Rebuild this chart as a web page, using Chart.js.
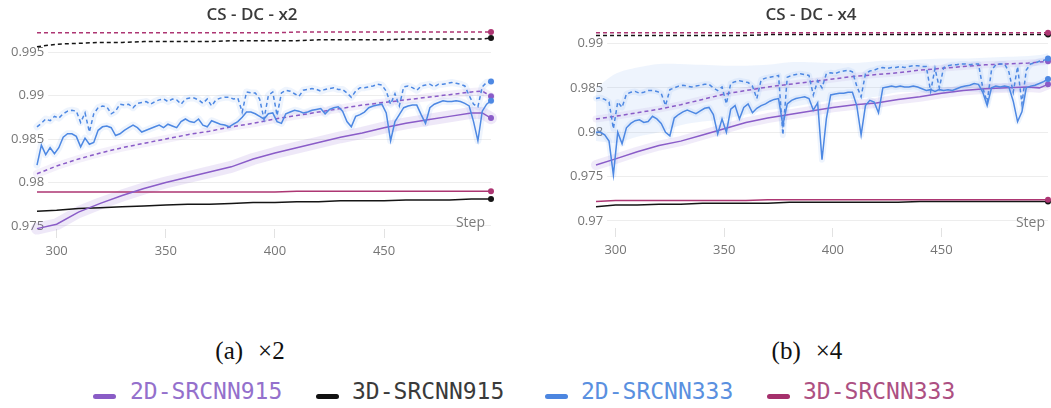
<!DOCTYPE html>
<html><head><meta charset="utf-8">
<script src="https://cdn.jsdelivr.net/npm/chart.js@4.4.0/dist/chart.umd.min.js"></script>
<style>
html,body{margin:0;padding:0;background:#fff;}
#wrap{position:relative;width:1051px;height:408px;overflow:hidden;background:#fff;}
canvas{position:absolute;top:0;}
.t{position:absolute;top:5px;font-family:'Open Sans';font-weight:600;font-size:17px;line-height:17px;color:#3a3a3a;white-space:nowrap;text-align:center;width:200px;}
.step{position:absolute;top:215px;font-family:'Open Sans';font-size:14px;line-height:14px;color:#7b7b7b;}
.cap{position:absolute;top:338px;font-family:'Liberation Serif';font-size:25px;line-height:25px;color:#111;white-space:nowrap;text-align:center;width:200px;}
.lm{position:absolute;top:394px;width:23px;height:5px;border-radius:3px;}
.lt{position:absolute;top:380px;font-family:'DejaVu Sans Mono';font-size:23px;line-height:23px;white-space:nowrap;}
</style></head>
<body>
<div id="wrap">
<canvas id="c2" width="520" height="270" style="left:0px"></canvas>
<canvas id="c4" width="511" height="270" style="left:540px"></canvas>
<div class="t" style="left:152px">CS - DC - x2</div>
<div class="t" style="left:711px">CS - DC - x4</div>
<div class="step" style="right:566px">Step</div>
<div class="step" style="right:6px">Step</div>
<div class="cap" style="left:150px"><span>(a)</span><span style="margin-left:15px">×2</span></div>
<div class="cap" style="left:707px"><span>(b)</span><span style="margin-left:15px">×4</span></div>
<div class="lm" style="left:93px;background:#8a5cc6"></div><div class="lt" style="left:130px;color:#9470cc">2D-SRCNN915</div>
<div class="lm" style="left:316px;background:#111"></div><div class="lt" style="left:352px;color:#3a3a3a">3D-SRCNN915</div>
<div class="lm" style="left:545px;background:#4c86e0"></div><div class="lt" style="left:581px;color:#5a90e0">2D-SRCNN333</div>
<div class="lm" style="left:767px;background:#a5306c"></div><div class="lt" style="left:803px;color:#ad5082">3D-SRCNN333</div>
</div>
<script>
// ---------- shared x values ----------
const STEPS_FINE = [
291,293,295,297,299,301,303,305,307,309,
311,313,315,317,319,321,323,325,327,329,
331,333,335,337,339,341,343,345,347,349,
351,353,355,357,359,361,363,365,367,369,
371,373,375,377,379,381,383,385,387,389,
391,393,395,397,399,401,403,405,407,409,
411,413,415,417,419,421,423,425,427,429,
431,433,435,437,439,441,443,445,447,449,
451,453,455,457,459,461,463,465,467,469,
471,473,475,477,479,481,483,485,487,489,
491,493,495,497,499];
const STEPS_COARSE = [291,300,310,320,330,340,350,360,370,380,390,400,410,420,430,440,450,460,470,480,490,495,499];
const X_TICKS = [300,350,400,450];
const Y_TICKS_X2 = [0.975,0.98,0.985,0.99,0.995];
const Y_TICKS_X4 = [0.97,0.975,0.98,0.985,0.99];
const SERIES = ['2D-SRCNN915','3D-SRCNN915','2D-SRCNN333','3D-SRCNN333'];

// ---------- x2 panel ----------
const x2_2D333_dashed = [
0.9864,0.9868,0.9873,0.9871,0.9876,0.9874,0.9879,0.9882,0.9883,0.9882,
0.9869,0.9880,0.9858,0.9879,0.9886,0.9888,0.9887,0.9879,0.9882,0.9890,
0.9889,0.9890,0.9886,0.9891,0.9892,0.9893,0.9890,0.9893,0.9895,0.9896,
0.9893,0.9896,0.9895,0.9890,0.9896,0.9897,0.9897,0.9895,0.9891,0.9896,
0.9888,0.9895,0.9897,0.9898,0.9898,0.9896,0.9897,0.9881,0.9904,0.9903,
0.9903,0.9896,0.9873,0.9900,0.9904,0.9877,0.9903,0.9906,0.9905,0.9902,
0.9899,0.9906,0.9907,0.9908,0.9907,0.9905,0.9907,0.9908,0.9909,0.9907,
0.9907,0.9903,0.9898,0.9905,0.9909,0.9909,0.9910,0.9911,0.9913,0.9912,
0.9905,0.9890,0.9902,0.9888,0.9910,0.9911,0.9909,0.9906,0.9911,0.9912,
0.9913,0.9910,0.9913,0.9913,0.9914,0.9915,0.9914,0.9913,0.9911,0.9900,
0.9890,0.9887,0.9910,0.9915,0.9916];
const x2_2D333_solid = [
0.9820,0.9843,0.9832,0.9840,0.9833,0.9840,0.9852,0.9856,0.9856,0.9853,
0.9841,0.9851,0.9844,0.9846,0.9860,0.9864,0.9865,0.9863,0.9854,0.9856,
0.9860,0.9863,0.9866,0.9863,0.9858,0.9860,0.9862,0.9864,0.9866,0.9863,
0.9867,0.9865,0.9863,0.9870,0.9873,0.9870,0.9869,0.9873,0.9866,0.9864,
0.9871,0.9869,0.9867,0.9866,0.9864,0.9867,0.9870,0.9875,0.9881,0.9881,
0.9879,0.9876,0.9873,0.9879,0.9880,0.9870,0.9868,0.9879,0.9881,0.9883,
0.9882,0.9880,0.9881,0.9883,0.9884,0.9885,0.9879,0.9884,0.9886,0.9887,
0.9882,0.9870,0.9864,0.9876,0.9878,0.9881,0.9886,0.9888,0.9889,0.9890,
0.9880,0.9848,0.9870,0.9878,0.9886,0.9888,0.9889,0.9889,0.9878,0.9868,
0.9886,0.9890,0.9892,0.9894,0.9893,0.9893,0.9894,0.9893,0.9891,0.9888,
0.9870,0.9848,0.9882,0.9890,0.9894];
const x2_2D915_solid  = [0.9747,0.9752,0.9766,0.9776,0.9785,0.9793,0.9800,0.9806,0.9812,0.9818,0.9827,0.9834,0.9840,0.9846,0.9852,0.9857,0.9863,0.9868,0.9872,0.9876,0.9880,0.9880,0.9874];
const x2_2D915_dashed = [0.9810,0.9819,0.9827,0.9834,0.9840,0.9845,0.9850,0.9855,0.9859,0.9864,0.9868,0.9873,0.9877,0.9881,0.9885,0.9889,0.9892,0.9895,0.9898,0.9901,0.9904,0.9905,0.9899];
const x2_3D915_solid  = [0.9767,0.9768,0.9770,0.9771,0.9772,0.9773,0.9774,0.9775,0.9775,0.9776,0.9777,0.9777,0.9778,0.9778,0.9779,0.9779,0.9779,0.9780,0.9780,0.9780,0.9781,0.9781,0.9781];
const x2_3D915_dashed = [0.9956,0.9959,0.9960,0.9961,0.9961,0.9962,0.9962,0.9962,0.9962,0.9963,0.9963,0.9963,0.9963,0.9964,0.9964,0.9964,0.9964,0.9965,0.9965,0.9965,0.9965,0.9965,0.9966];
const x2_3D333_solid  = [0.9789,0.9789,0.9789,0.9789,0.9789,0.9789,0.9789,0.9789,0.9789,0.9789,0.9789,0.9789,0.9790,0.9790,0.9790,0.9790,0.9790,0.9790,0.9790,0.9790,0.9790,0.9790,0.9790];
const x2_3D333_dashed = [0.9972,0.9972,0.9972,0.9972,0.9972,0.9972,0.9972,0.9972,0.9972,0.9972,0.9972,0.9972,0.9973,0.9973,0.9973,0.9973,0.9973,0.9973,0.9973,0.9973,0.9973,0.9973,0.9973];

// ---------- x4 panel ----------
const x4_2D333_dashed = [
0.9838,0.9839,0.9837,0.9834,0.9804,0.9834,0.9828,0.9843,0.9845,0.9846,
0.9844,0.9845,0.9847,0.9847,0.9846,0.9844,0.9830,0.9848,0.9850,0.9852,
0.9853,0.9852,0.9851,0.9852,0.9853,0.9854,0.9854,0.9850,0.9847,0.9851,
0.9832,0.9855,0.9857,0.9858,0.9857,0.9856,0.9852,0.9838,0.9859,0.9861,
0.9862,0.9863,0.9864,0.9797,0.9862,0.9864,0.9865,0.9866,0.9865,0.9864,
0.9842,0.9858,0.9850,0.9866,0.9867,0.9866,0.9868,0.9869,0.9870,0.9868,
0.9852,0.9840,0.9866,0.9869,0.9870,0.9872,0.9873,0.9872,0.9873,0.9873,
0.9874,0.9873,0.9874,0.9875,0.9875,0.9874,0.9874,0.9846,0.9872,0.9850,
0.9873,0.9875,0.9876,0.9876,0.9877,0.9877,0.9876,0.9877,0.9877,0.9850,
0.9834,0.9870,0.9876,0.9877,0.9877,0.9868,0.9845,0.9874,0.9832,0.9870,
0.9877,0.9878,0.9880,0.9881,0.9883];
const x4_2D333_solid = [
0.9800,0.9800,0.9797,0.9790,0.9752,0.9800,0.9787,0.9805,0.9810,0.9813,
0.9814,0.9811,0.9812,0.9818,0.9815,0.9810,0.9800,0.9796,0.9816,0.9820,
0.9823,0.9825,0.9823,0.9821,0.9824,0.9827,0.9828,0.9820,0.9798,0.9815,
0.9800,0.9826,0.9830,0.9815,0.9828,0.9832,0.9822,0.9827,0.9830,0.9832,
0.9835,0.9837,0.9838,0.9808,0.9832,0.9836,0.9838,0.9839,0.9840,0.9838,
0.9825,0.9833,0.9769,0.9815,0.9842,0.9843,0.9844,0.9844,0.9845,0.9845,
0.9830,0.9797,0.9830,0.9836,0.9834,0.9822,0.9850,0.9851,0.9852,0.9851,
0.9852,0.9851,0.9851,0.9852,0.9851,0.9849,0.9847,0.9848,0.9846,0.9848,
0.9847,0.9848,0.9847,0.9849,0.9851,0.9852,0.9853,0.9855,0.9854,0.9845,
0.9830,0.9850,0.9852,0.9851,0.9852,0.9851,0.9835,0.9812,0.9823,0.9850,
0.9852,0.9853,0.9855,0.9857,0.9860];
const x4_2D333_bandTop = [0.9850,0.9866,0.9873,0.9877,0.9877,0.9876,0.9875,0.9875,0.9876,0.9879,0.9879,0.9878,0.9878,0.9880,0.9881,0.9882,0.9883,0.9883,0.9884,0.9885,0.9886,0.9887,0.9889];
const x4_2D333_bandBot = [0.9790,0.9788,0.9795,0.9800,0.9808,0.9812,0.9815,0.9820,0.9825,0.9828,0.9832,0.9836,0.9838,0.9840,0.9845,0.9845,0.9843,0.9846,0.9845,0.9846,0.9848,0.9850,0.9855];
const x4_2D915_solid  = [0.9763,0.9770,0.9778,0.9785,0.9790,0.9797,0.9804,0.9811,0.9816,0.9820,0.9824,0.9828,0.9831,0.9833,0.9837,0.9840,0.9844,0.9847,0.9849,0.9850,0.9851,0.9850,0.9854];
const x4_2D915_dashed = [0.9815,0.9818,0.9822,0.9826,0.9831,0.9837,0.9843,0.9847,0.9851,0.9854,0.9857,0.9860,0.9863,0.9865,0.9867,0.9870,0.9872,0.9874,0.9876,0.9877,0.9878,0.9879,0.9880];
const x4_3D915_solid  = [0.9716,0.9718,0.9718,0.9719,0.9719,0.9720,0.9720,0.9720,0.9720,0.9721,0.9721,0.9721,0.9721,0.9721,0.9721,0.9722,0.9722,0.9722,0.9722,0.9722,0.9722,0.9722,0.9722];
const x4_3D915_dashed = [0.9909,0.9909,0.9909,0.9909,0.9909,0.9909,0.9909,0.9909,0.9910,0.9910,0.9910,0.9910,0.9910,0.9910,0.9910,0.9910,0.9910,0.9910,0.9910,0.9910,0.9910,0.9910,0.9910];
const x4_3D333_solid  = [0.9722,0.9723,0.9723,0.9723,0.9723,0.9723,0.9723,0.9723,0.9724,0.9724,0.9724,0.9724,0.9724,0.9724,0.9724,0.9724,0.9724,0.9724,0.9724,0.9724,0.9724,0.9724,0.9724];
const x4_3D333_dashed = [0.9912,0.9912,0.9912,0.9912,0.9912,0.9912,0.9912,0.9912,0.9912,0.9912,0.9912,0.9912,0.9912,0.9912,0.9912,0.9912,0.9912,0.9912,0.9912,0.9912,0.9912,0.9912,0.9912];

// ---------- styling ----------
const C_PURPLE = '#8a5cc8', C_BLACK = '#151515', C_BLUE = '#4d88e3', C_PINK = '#ad3673';

function pts(xs, ys){ return xs.map((x,i)=>({x:x, y:ys[i]})); }
function endDot(ctx){ return ctx.dataIndex === ctx.dataset.data.length - 1 ? 3 : 0; }
function line(label, xs, ys, color, dash, order){
  return {label:label, data:pts(xs,ys), borderColor:color, backgroundColor:color,
    borderWidth:1.5, borderDash:dash, pointRadius:endDot, pointHoverRadius:0,
    pointBorderWidth:0, pointBackgroundColor:color, tension:0, fill:false, clip:false, order:order};
}
function halo(xs, ys, color, width, order){
  return {label:'', data:pts(xs,ys), borderColor:color, borderWidth:width, pointRadius:0,
    tension:0, fill:false, clip:false, order:order, borderCapStyle:'round', borderJoinStyle:'round'};
}
const DASH = [4,3];

function makeChart(id, datasets, yMin, yMax, yTicks, yWidth, xHeight, padRight){
  return new Chart(document.getElementById(id), {
    type:'line',
    data:{datasets:datasets},
    options:{
      responsive:false, animation:false, devicePixelRatio:1, events:[],
      layout:{padding:{left:0, right:padRight, top:28, bottom:0}},
      plugins:{legend:{display:false}, tooltip:{enabled:false}, title:{display:false}},
      scales:{
        x:{type:'linear', min:291, max:499,
          afterBuildTicks:s=>{ s.ticks = X_TICKS.map(v=>({value:v})); },
          afterFit:s=>{ s.height = xHeight; },
          grid:{display:true, drawOnChartArea:false, drawTicks:true, tickLength:9, color:'#e2e2e2', lineWidth:1},
          border:{display:false},
          ticks:{padding:5, color:'#767676', font:{family:'Open Sans', size:13}, maxRotation:0, autoSkip:false, callback:v=>String(v)}},
        y:{type:'linear', min:yMin, max:yMax,
          afterBuildTicks:s=>{ s.ticks = yTicks.map(v=>({value:v})); },
          afterFit:s=>{ s.width = yWidth; },
          grid:{color:'#ededed', drawTicks:false, lineWidth:1},
          border:{display:false},
          ticks:{mirror:true, crossAlign:'far', padding:-26, color:'#767676', font:{family:'Open Sans', size:13},
            showLabelBackdrop:true, backdropColor:'#ffffff', backdropPadding:{top:1,bottom:1,left:2,right:4},
            callback:v=>String(+Number(v).toFixed(3))}}
      }
    }
  });
}

const F = STEPS_FINE, K = STEPS_COARSE;
makeChart('c2', [
  halo(K, x2_2D915_solid, 'rgba(150,110,210,0.16)', 12, 30),
  halo(K, x2_2D915_dashed, 'rgba(150,110,210,0.10)', 8, 30),
  halo(F, x2_2D333_dashed, 'rgba(90,150,235,0.10)', 7, 31),
  halo(F, x2_2D333_solid, 'rgba(90,150,235,0.10)', 7, 31),
  line(SERIES[1], K, x2_3D915_dashed, C_BLACK, DASH, 6),
  line(SERIES[3], K, x2_3D333_dashed, C_PINK, DASH, 5),
  line(SERIES[1], K, x2_3D915_solid, C_BLACK, [], 6),
  line(SERIES[3], K, x2_3D333_solid, C_PINK, [], 5),
  line(SERIES[0], K, x2_2D915_dashed, C_PURPLE, DASH, 4),
  line(SERIES[0], K, x2_2D915_solid, C_PURPLE, [], 4),
  line(SERIES[2], F, x2_2D333_dashed, C_BLUE, DASH, 2),
  line(SERIES[2], F, x2_2D333_solid, C_BLUE, [], 2)
], 0.974655, 0.997759, Y_TICKS_X2, 37, 41, 29);

makeChart('c4', [
  {label:'', data:pts(K, x4_2D333_bandTop), borderWidth:0, borderColor:'rgba(0,0,0,0)', pointRadius:0, tension:0.3, fill:'+1', backgroundColor:'rgba(120,170,240,0.13)', order:40},
  {label:'', data:pts(K, x4_2D333_bandBot), borderWidth:0, borderColor:'rgba(0,0,0,0)', pointRadius:0, tension:0.3, fill:false, order:40},
  halo(K, x4_2D915_solid, 'rgba(150,110,210,0.14)', 10, 30),
  halo(K, x4_2D915_dashed, 'rgba(150,110,210,0.10)', 7, 30),
  halo(F, x4_2D333_dashed, 'rgba(90,150,235,0.10)', 6, 31),
  halo(F, x4_2D333_solid, 'rgba(90,150,235,0.10)', 6, 31),
  line(SERIES[1], K, x4_3D915_dashed, C_BLACK, DASH, 6),
  line(SERIES[3], K, x4_3D333_dashed, C_PINK, DASH, 5),
  line(SERIES[1], K, x4_3D915_solid, C_BLACK, [], 6),
  line(SERIES[3], K, x4_3D333_solid, C_PINK, [], 5),
  line(SERIES[0], K, x4_2D915_dashed, C_PURPLE, DASH, 4),
  line(SERIES[0], K, x4_2D915_solid, C_PURPLE, [], 4),
  line(SERIES[2], F, x4_2D333_dashed, C_BLUE, DASH, 2),
  line(SERIES[2], F, x4_2D333_solid, C_BLUE, [], 2)
], 0.969211, 0.991746, Y_TICKS_X4, 56, 42, 1);
</script>
</body></html>
